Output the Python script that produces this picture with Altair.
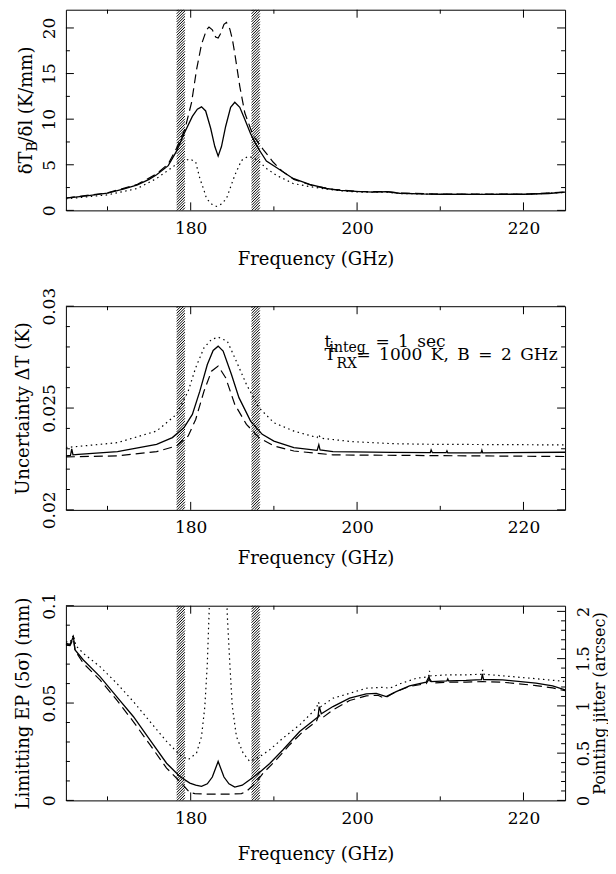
import altair as alt
import pandas as pd

FONT = "DejaVu Serif"
LFS = 17      # tick labels
TFS = 18      # axis titles
AFS = 17      # annotation text
SUBFS = 14
W = 500
H1, H2, H3 = 201, 204, 195
FREQ_DOMAIN = [165, 225]
BANDS_LO = [178.31, 187.31]
BANDS_HI = [179.31, 188.31]

X_LABELS = [180, 200, 220]
X_MINOR = [170, 190, 210]

# ---------------- panel 1 : dT_B/dl ----------------
P1_Y_DOMAIN = [0, 22]
P1_Y_LABELS = [0, 5, 10, 15, 20]
P1_Y_MINOR = [2.5, 7.5, 12.5, 17.5]

p1_solid_f = [165.0, 167.5, 170.0, 172.0, 173.6, 175.0, 175.9, 177.3, 178.3, 179.3, 180.2, 180.8, 181.3, 181.8,
              182.4, 182.9, 183.3, 183.7, 184.2, 184.8, 185.3, 185.9, 186.5, 187.2, 187.8, 188.4, 189.1, 190.3,
              192.3, 194.3, 196.3, 198.0, 200.3, 202.0, 203.5, 205.1, 207.5, 210.0, 215.0, 220.0, 223.0, 225.0]
p1_solid_v = [1.34, 1.6, 1.9, 2.35, 2.8, 3.4, 3.9, 4.9, 6.5, 8.6, 10.3, 11.1, 11.35, 10.9,
              9.0, 7.0, 5.95, 7.0, 9.2, 11.3, 11.85, 11.3, 10.0, 8.4, 7.3, 6.4, 5.4, 4.7,
              3.5, 2.84, 2.4, 2.2, 2.05, 2.0, 2.05, 1.88, 1.8, 1.77, 1.76, 1.77, 1.85, 2.0]

p1_dash_f = [165.0, 170.0, 173.6, 175.9, 177.3, 178.3, 179.3, 180.1, 180.7, 181.3, 181.9, 182.2, 182.6, 183.0,
             183.3, 183.6, 184.0, 184.3, 184.7, 185.0, 185.3, 185.9, 186.5, 187.5, 188.7, 189.9, 191.0, 192.4,
             194.7, 197.1, 200.3, 203.5, 205.1, 210.0, 220.0, 225.0]
p1_dash_v = [1.36, 1.92, 2.85, 4.0, 5.1, 6.8, 8.9, 11.8, 15.4, 18.2, 19.8, 20.1, 19.8, 19.0,
             18.9, 19.4, 20.4, 20.6, 19.9, 18.8, 17.2, 13.6, 10.7, 8.2, 6.7, 5.3, 4.3, 3.4,
             2.7, 2.3, 2.07, 2.06, 1.9, 1.78, 1.77, 2.0]

p1_dot_f = [165.0, 170.0, 173.6, 175.9, 177.3, 178.5, 179.9, 180.6, 181.1, 181.6, 181.9, 182.5, 183.1, 183.7,
            184.3, 185.3, 186.1, 186.9, 187.7, 188.3, 189.1, 190.3, 192.3, 194.3, 196.3, 198.0, 200.3, 203.5,
            205.1, 210.0, 220.0, 225.0]
p1_dot_v = [1.26, 1.7, 2.4, 3.5, 4.4, 5.2, 5.64, 5.3, 3.5, 2.2, 1.3, 0.7, 0.43, 0.7,
            1.3, 3.85, 5.47, 5.93, 5.7, 5.3, 4.6, 3.85, 2.95, 2.6, 2.34, 2.15, 2.0, 2.0,
            1.85, 1.76, 1.75, 1.97]

# ---------------- panel 2 : uncertainty ----------------
P2_Y_DOMAIN = [0.02, 0.03]
P2_Y_LABELS = [0.02, 0.025, 0.03]
P2_Y_MINOR = [0.021, 0.022, 0.023, 0.024, 0.026, 0.027, 0.028, 0.029]

p2_solid_f = [165.0, 165.55, 165.7, 165.85, 166.5, 171.2, 175.9, 177.8, 179.2, 180.2, 181.1, 182.0, 182.7, 183.3,
              183.9, 184.9, 185.8, 187.2, 188.6, 190.0, 192.4, 195.2, 195.4, 195.55, 197.1, 204.2, 208.8, 208.9,
              209.05, 210.7, 210.8, 210.9, 214.9, 215.0, 215.1, 225.0]
p2_solid_v = [0.02265, 0.02267, 0.02300, 0.02270, 0.02273, 0.02286, 0.02322, 0.02355, 0.02404, 0.02469, 0.02583,
              0.02714, 0.02783, 0.02804, 0.02780, 0.02665, 0.02551, 0.02436, 0.02371, 0.02338, 0.02306, 0.02292,
              0.02320, 0.02295, 0.02286, 0.02282, 0.02281, 0.02295, 0.02281, 0.02281, 0.02290, 0.02280, 0.02280,
              0.02293, 0.02280, 0.02283]

p2_dash_f = [165.0, 171.2, 175.9, 178.3, 179.7, 180.6, 181.6, 182.5, 183.3, 184.2, 185.3, 186.7, 188.2, 190.0,
             192.4, 197.1, 225.0]
p2_dash_v = [0.02260, 0.02265, 0.02286, 0.02314, 0.02363, 0.02444, 0.02583, 0.02681, 0.02706, 0.02649, 0.02518,
             0.02420, 0.02355, 0.02314, 0.02289, 0.02270, 0.02262]

p2_dot_f = [165.0, 171.2, 175.9, 178.3, 179.7, 180.6, 181.6, 182.5, 183.3, 184.4, 185.3, 186.7, 188.2, 190.0,
            192.4, 195.2, 195.4, 195.6, 199.4, 204.2, 208.9, 225.0]
p2_dot_v = [0.02306, 0.02330, 0.02387, 0.02469, 0.02583, 0.02698, 0.02796, 0.02837, 0.02848, 0.02828, 0.02747,
            0.02616, 0.02502, 0.02428, 0.02387, 0.02355, 0.02370, 0.02352, 0.02335, 0.02325, 0.02322, 0.02319]

# ---------------- panel 3 : limiting EP ----------------
P3_Y_DOMAIN = [0, 0.1]
P3_Y_LABELS = [0, 0.05, 0.1]
P3_Y_MINOR = [0.01, 0.02, 0.03, 0.04, 0.06, 0.07, 0.08, 0.09]
P3_R_DOMAIN = [0, 2.06]
P3_R_LABELS = [0, 0.5, 1, 1.5, 2]
P3_R_MINOR = [0.1, 0.2, 0.3, 0.4, 0.6, 0.7, 0.8, 0.9, 1.1, 1.2, 1.3, 1.4, 1.6, 1.7, 1.8, 1.9]

p3_solid_f = [165.0, 165.5, 165.9, 166.1, 167.1, 169.1, 171.1, 173.1, 175.1, 177.1, 178.7, 179.9, 180.6, 181.3,
              182.0, 182.6, 183.3, 184.0, 184.6, 185.3, 186.2, 187.1, 188.3, 189.5, 191.1, 193.1, 195.1, 195.3,
              195.45, 195.7, 197.1, 199.1, 201.1, 202.3, 203.5, 204.7, 206.3, 208.3, 208.65, 208.75, 208.9,
              210.8, 210.9, 211.0, 213.1, 214.95, 215.05, 215.2, 217.5, 221.5, 223.5, 225.0]
p3_solid_v = [0.0807, 0.0802, 0.0841, 0.0773, 0.0721, 0.0636, 0.0533, 0.0431, 0.0311, 0.0191, 0.0123, 0.0089,
              0.0078, 0.0072, 0.0085, 0.0120, 0.0200, 0.0120, 0.0085, 0.0068, 0.0078, 0.0106, 0.0145, 0.0190,
              0.0260, 0.0354, 0.0422, 0.0428, 0.0482, 0.0445, 0.0482, 0.0525, 0.0547, 0.0550, 0.0533, 0.0559,
              0.0588, 0.0607, 0.0636, 0.0614, 0.0610, 0.0614, 0.0624, 0.0614, 0.0616, 0.0620, 0.0650, 0.0621,
              0.0619, 0.0602, 0.0588, 0.0568]

p3_dash_f = [165.0, 165.5, 165.9, 166.1, 167.1, 169.1, 171.1, 173.1, 175.1, 177.1, 178.7, 179.9, 180.5, 181.5,
             182.5, 183.3, 184.1, 185.1, 186.1, 186.7, 187.7, 188.7, 190.3, 191.9, 193.5, 195.1, 195.4, 195.7,
             197.1, 199.1, 201.1, 202.5, 203.3, 204.7, 206.3, 208.3, 208.7, 209.1, 211.0, 213.1, 215.1, 217.5,
             221.5, 223.5, 225.0]
p3_dash_v = [0.0798, 0.0795, 0.0830, 0.0770, 0.0704, 0.0619, 0.0516, 0.0405, 0.0286, 0.0166, 0.0097, 0.0040,
             0.0035, 0.0033, 0.0032, 0.0033, 0.0032, 0.0033, 0.0035, 0.0046, 0.0085, 0.0140, 0.0209, 0.0286,
             0.0354, 0.0405, 0.0440, 0.0420, 0.0465, 0.0513, 0.0537, 0.0540, 0.0525, 0.0559, 0.0585, 0.0600,
             0.0625, 0.0603, 0.0607, 0.0608, 0.0610, 0.0607, 0.0590, 0.0578, 0.0563]

p3_dot_f = [165.0, 165.5, 165.9, 166.2, 167.1, 169.1, 171.1, 173.1, 175.1, 177.1, 178.7, 179.7, 180.7, 181.3,
            181.7, 182.0, 182.2, 182.35, 183.3, 184.25, 184.4, 184.7, 185.0, 185.5, 186.3, 187.1, 188.3, 189.5,
            191.1, 193.1, 195.1, 195.35, 195.6, 197.1, 199.1, 201.1, 203.1, 203.9, 205.1, 207.1, 208.6, 208.7,
            208.85, 211.0, 213.1, 215.0, 215.1, 215.25, 217.5, 221.5, 225.0]
p3_dot_v = [0.0815, 0.0812, 0.0850, 0.0795, 0.0755, 0.0687, 0.0602, 0.0508, 0.0405, 0.0303, 0.0234, 0.0209,
            0.0243, 0.0328, 0.0482, 0.0704, 0.0950, 0.1150, 0.1200, 0.1150, 0.0950, 0.0704, 0.0482, 0.0328,
            0.0243, 0.0200, 0.0225, 0.0260, 0.0320, 0.0388, 0.0473, 0.0505, 0.0480, 0.0525, 0.0550, 0.0576,
            0.0581, 0.0576, 0.0598, 0.0627, 0.0635, 0.0665, 0.0640, 0.0645, 0.0645, 0.0648, 0.0670, 0.0648,
            0.0640, 0.0625, 0.0611]

DASH = [9, 5]
DOT = [1.5, 3.5]
MAJOR_LEN = 8
MINOR_LEN = 4
ESP = "\u2002"  # en space, the original font has wide blanks


def xscale():
    return alt.Scale(domain=FREQ_DOMAIN, nice=False, zero=False)


def yscale(dom):
    return alt.Scale(domain=dom, nice=False, zero=False)


def x_axis(title_pad=14):
    return alt.Axis(values=X_LABELS, ticks=False, domain=False, grid=False, labelPadding=10,
                    labelFontSize=LFS, title="Frequency (GHz)", titleFontSize=TFS, titlePadding=title_pad)


def y_axis(values, fmt, title):
    return alt.Axis(values=values, format=fmt, ticks=False, domain=False, grid=False,
                    labelAngle=270, labelAlign="center", labelBaseline="alphabetic", labelPadding=11,
                    labelFontSize=LFS, title=title, titleAngle=270, titleBaseline="alphabetic",
                    titlePadding=12, titleFontSize=TFS)


def carrier(f, v, dom, yaxis, title_pad=14):
    # invisible layer that owns the axes of the panel (listed first so its settings win)
    df = pd.DataFrame({"f": f, "v": v})
    return alt.Chart(df).mark_line(opacity=0).encode(
        x=alt.X("f:Q", scale=xscale(), axis=x_axis(title_pad)),
        y=alt.Y("v:Q", scale=yscale(dom), axis=yaxis),
    )


def curve(f, v, dom, dash=None):
    df = pd.DataFrame({"f": f, "v": v})
    if dash:
        mk = alt.Chart(df).mark_line(color="black", strokeWidth=1.2, clip=True, strokeDash=dash)
    else:
        mk = alt.Chart(df).mark_line(color="black", strokeWidth=1.3, clip=True)
    return mk.encode(
        x=alt.X("f:Q", scale=xscale()),
        y=alt.Y("v:Q", scale=yscale(dom)),
    )


def xticks(values, length, H):
    df = pd.DataFrame({"t": values})
    base = alt.Chart(df).mark_rule(color="black", strokeWidth=1)
    xe = alt.X("t:Q", scale=xscale())
    return [base.encode(x=xe, y=alt.value(H), y2=alt.value(H - length)),
            base.encode(x=xe, y=alt.value(0), y2=alt.value(length))]


def yticks(values, length, dom, left=True, right=True):
    df = pd.DataFrame({"t": values})
    base = alt.Chart(df).mark_rule(color="black", strokeWidth=1)
    ye = alt.Y("t:Q", scale=yscale(dom))
    out = []
    if left:
        out.append(base.encode(y=ye, x=alt.value(0), x2=alt.value(length)))
    if right:
        out.append(base.encode(y=ye, x=alt.value(W), x2=alt.value(W - length)))
    return out


def hatch(dom, H):
    # diagonal hatching of the two excluded bands, segments trimmed to the plot range
    ppu = H / (dom[1] - dom[0])
    rows = []
    for lo, hi in zip(BANDS_LO, BANDS_HI):
        wpx = (hi - lo) * W / (FREQ_DOMAIN[1] - FREQ_DOMAIN[0])
        dy = wpx / ppu
        step = 2.7 / ppu
        y0 = dom[0] - dy
        while y0 < dom[1]:
            t0 = max(0.0, (dom[0] - y0) / dy)
            t1 = min(1.0, (dom[1] - y0) / dy)
            if t1 > t0:
                rows.append({"x1": lo + t0 * (hi - lo), "x2": lo + t1 * (hi - lo),
                             "y1": y0 + t0 * dy, "y2": y0 + t1 * dy})
            y0 += step
    df = pd.DataFrame(rows)
    return alt.Chart(df).mark_rule(color="black", strokeWidth=1.0).encode(
        x=alt.X("x1:Q", scale=xscale()), x2="x2:Q",
        y=alt.Y("y1:Q", scale=yscale(dom)), y2="y2:Q")


def label(text, x, y, size=AFS, angle=0, align="left"):
    return alt.Chart(pd.DataFrame({"k": [0]})).mark_text(
        text=text, font=FONT, fontSize=size, angle=angle, align=align, baseline="alphabetic",
        color="black").encode(x=alt.value(x), y=alt.value(y))


# ---------------- build panel 1 ----------------
p1_layers = [carrier(p1_solid_f, p1_solid_v, P1_Y_DOMAIN, y_axis(P1_Y_LABELS, "~g", None)),
             hatch(P1_Y_DOMAIN, H1),
             curve(p1_dot_f, p1_dot_v, P1_Y_DOMAIN, DOT),
             curve(p1_dash_f, p1_dash_v, P1_Y_DOMAIN, DASH),
             curve(p1_solid_f, p1_solid_v, P1_Y_DOMAIN)]
p1_layers += xticks(X_LABELS, MAJOR_LEN, H1) + xticks(X_MINOR, MINOR_LEN, H1)
p1_layers += yticks(P1_Y_LABELS, MAJOR_LEN, P1_Y_DOMAIN) + yticks(P1_Y_MINOR, MINOR_LEN, P1_Y_DOMAIN)
p1_layers += [label("δT", -34, 142, size=TFS, angle=270, align="right"),
              label("B", -29, 142, size=SUBFS, angle=270, align="left"),
              label("/δl (K/mm)", -34, 133, size=TFS, angle=270, align="left")]
p1 = alt.layer(*p1_layers).properties(width=W, height=H1)

# ---------------- build panel 2 ----------------
p2_layers = [carrier(p2_solid_f, p2_solid_v, P2_Y_DOMAIN,
                     y_axis(P2_Y_LABELS, ".3~f", "Uncertainty ΔT (K)")),
             hatch(P2_Y_DOMAIN, H2),
             curve(p2_dot_f, p2_dot_v, P2_Y_DOMAIN, DOT),
             curve(p2_dash_f, p2_dash_v, P2_Y_DOMAIN, DASH),
             curve(p2_solid_f, p2_solid_v, P2_Y_DOMAIN)]
p2_layers += xticks(X_LABELS, MAJOR_LEN, H2) + xticks(X_MINOR, MINOR_LEN, H2)
p2_layers += yticks(P2_Y_LABELS, MAJOR_LEN, P2_Y_DOMAIN) + yticks(P2_Y_MINOR, MINOR_LEN, P2_Y_DOMAIN)
p2_layers += [label("t", 259, 41),
              label("integ", 264, 46, size=SUBFS),
              label("=" + ESP + "1" + ESP + "sec", 310, 41),
              label("T", 259, 54),
              label("RX", 271, 62, size=SUBFS),
              label("=" + ESP + "1000" + ESP + "K," + ESP + "B" + ESP + "=" + ESP + "2" + ESP + "GHz", 291, 54)]
p2 = alt.layer(*p2_layers).properties(width=W, height=H2)

# ---------------- build panel 3 ----------------
p3_left = [carrier(p3_solid_f, p3_solid_v, P3_Y_DOMAIN,
                   y_axis(P3_Y_LABELS, "~g", "Limitting EP (5σ) (mm)"), title_pad=19),
           hatch(P3_Y_DOMAIN, H3),
           curve(p3_dot_f, p3_dot_v, P3_Y_DOMAIN, DOT),
           curve(p3_dash_f, p3_dash_v, P3_Y_DOMAIN, DASH),
           curve(p3_solid_f, p3_solid_v, P3_Y_DOMAIN)]
p3_left += xticks(X_LABELS, MAJOR_LEN, H3) + xticks(X_MINOR, MINOR_LEN, H3)
p3_left += yticks(P3_Y_LABELS, MAJOR_LEN, P3_Y_DOMAIN, right=False)
p3_left += yticks(P3_Y_MINOR, MINOR_LEN, P3_Y_DOMAIN, right=False)
left_group = alt.layer(*p3_left)

r_major = alt.Chart(pd.DataFrame({"t": P3_R_LABELS})).mark_rule(color="black", strokeWidth=1).encode(
    y=alt.Y("t:Q", scale=yscale(P3_R_DOMAIN),
            axis=alt.Axis(orient="right", values=P3_R_LABELS, format="~g", ticks=False, domain=False,
                          grid=False, labelAngle=270, labelAlign="center", labelBaseline="top",
                          labelPadding=10, labelFontSize=16, title="Pointing jitter (arcsec)",
                          titleAngle=270, titleBaseline="top", titlePadding=0, titleFontSize=16)),
    x=alt.value(W), x2=alt.value(W - MAJOR_LEN))
r_minor = alt.Chart(pd.DataFrame({"t": P3_R_MINOR})).mark_rule(color="black", strokeWidth=1).encode(
    y=alt.Y("t:Q", scale=yscale(P3_R_DOMAIN)),
    x=alt.value(W), x2=alt.value(W - MINOR_LEN))
right_group = alt.layer(r_major, r_minor)

p3 = alt.layer(left_group, right_group).resolve_scale(y="independent").properties(width=W, height=H3)

chart = alt.vconcat(p1, p2, p3, spacing=96, bounds="flush").configure_view(
    stroke="black", strokeWidth=1
).configure_axis(
    labelFont=FONT, titleFont=FONT, labelColor="black", titleColor="black", titleFontWeight="normal"
).properties(padding={"left": 6, "top": 0, "right": 0, "bottom": 0})

chart.save("out.html", embed_options={"renderer": "svg", "actions": False})
